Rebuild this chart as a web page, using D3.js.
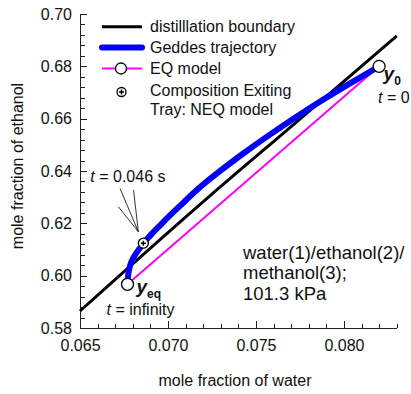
<!DOCTYPE html>
<html lang="en">
	<head>
		<meta charset="utf-8">
		<title>Geddes trajectory</title>
		<style type="text/css">
			body {
				margin: 0;
				background-color: white;
			}
			svg {
				font-family: "Liberation Sans", Arial, Helvetica, sans-serif;
			}
			.axis path,
			.axis line {
				fill: none;
				stroke: #222;
				stroke-width: 1;
				shape-rendering: crispEdges;
			}
			.axis text {
				font-size: 16px;
				fill: #111;
			}
			.title {
				font-size: 16px;
				fill: #111;
			}
			.legend text {
				font-size: 16px;
				fill: #111;
			}
			.note {
				font-size: 16px;
				fill: #111;
			}
		</style>
	</head>
	<body>
	<script type="text/javascript" src="https://cdnjs.cloudflare.com/ajax/libs/d3/7.8.5/d3.min.js"></script>
	<script type="text/javascript">

		// tick values
		var waterTicks = [0.065, 0.070, 0.075, 0.080];
		var ethanolTicks = [0.58, 0.60, 0.62, 0.64, 0.66, 0.68, 0.70];

		// distillation boundary
		var boundaryWater = [0.065, 0.0724, 0.0773, 0.0830];
		var boundaryEthanol = [0.5865, 0.6306, 0.6587, 0.6916];

		// Geddes trajectory, from y0 (t = 0) to yeq (t = infinity)
		var geddesWater = [0.0820, 0.0803, 0.0786, 0.0772, 0.0758, 0.0741, 0.0730, 0.0718, 0.0708,
			0.0701, 0.06955, 0.0690, 0.0686, 0.06827, 0.06798, 0.06781, 0.06773, 0.0677];
		var geddesEthanol = [0.6800, 0.6733, 0.6664, 0.6603, 0.6540, 0.6459, 0.6402, 0.6339, 0.6274,
			0.6230, 0.6192, 0.6155, 0.6123, 0.6094, 0.6064, 0.6033, 0.6003, 0.5967];

		// EQ model
		var eqWater = [0.0820, 0.0677];
		var eqEthanol = [0.6800, 0.5967];

		// composition exiting tray, NEQ model (t = 0.046 s)
		var neqWater = [0.0686];
		var neqEthanol = [0.6124];

		var fullwidth = 411;
		var fullheight = 394;

		var svg = d3.select("body")
			.append("svg")
			.attr("width", fullwidth)
			.attr("height", fullheight);

		var xScale = d3.scaleLinear()
			.domain([0.065, 0.083])
			.range([80, 396.7]);

		var yScale = d3.scaleLinear()
			.domain([0.58, 0.70])
			.range([328, 14]);

		var bottom = yScale.range()[0];
		var left = xScale.range()[0];

		// minor ticks first
		svg.append("g")
			.attr("class", "x axis minor")
			.attr("transform", "translate(0," + bottom + ")")
			.call(d3.axisBottom(xScale)
				.tickValues(d3.range(65, 84).map(function(d) { return d / 1000; }))
				.tickSizeInner(-4)
				.tickSizeOuter(0)
				.tickFormat(""));

		svg.append("g")
			.attr("class", "x axis")
			.attr("transform", "translate(0," + bottom + ")")
			.call(d3.axisBottom(xScale)
				.tickValues(waterTicks)
				.tickSizeInner(-7)
				.tickSizeOuter(0)
				.tickPadding(12)
				.tickFormat(d3.format(".3f")));

		svg.append("g")
			.attr("class", "y axis minor")
			.attr("transform", "translate(" + left + ",0)")
			.call(d3.axisLeft(yScale)
				.tickValues(d3.range(0, 31).map(function(d) { return 0.58 + d * 0.004; }))
				.tickSizeInner(-5)
				.tickSizeOuter(0)
				.tickFormat(""));

		svg.append("g")
			.attr("class", "y axis")
			.attr("transform", "translate(" + left + ",0)")
			.call(d3.axisLeft(yScale)
				.tickValues(ethanolTicks)
				.tickSizeInner(-7)
				.tickSizeOuter(0)
				.tickPadding(8)
				.tickFormat(d3.format(".2f")));

		svg.append("text")
			.attr("class", "title")
			.attr("x", 235)
			.attr("y", 385.5)
			.style("text-anchor", "middle")
			.text("mole fraction of water");

		svg.append("text")
			.attr("class", "title")
			.attr("transform", "translate(23,166) rotate(-90)")
			.style("text-anchor", "middle")
			.text("mole fraction of ethanol");

		var line = d3.line()
			.x(function(d) { return xScale(d[0]); })
			.y(function(d) { return yScale(d[1]); });

		svg.append("path")
			.datum(d3.zip(boundaryWater, boundaryEthanol))
			.attr("d", line.curve(d3.curveMonotoneX))
			.attr("fill", "none")
			.attr("stroke", "black")
			.attr("stroke-width", 3);

		svg.append("path")
			.datum(d3.zip(eqWater, eqEthanol))
			.attr("d", line.curve(d3.curveLinear))
			.attr("fill", "none")
			.attr("stroke", "#ff00ff")
			.attr("stroke-width", 2);

		// basis curve to smooth out reading noise
		svg.append("path")
			.datum(d3.zip(geddesWater, geddesEthanol))
			.attr("d", line.curve(d3.curveBasis))
			.attr("fill", "none")
			.attr("stroke", "#0000ff")
			.attr("stroke-width", 6)
			.attr("stroke-linecap", "round");

		// open circles at both ends of the EQ model
		svg.selectAll("circle.eq")
			.data(d3.zip(eqWater, eqEthanol))
			.enter()
			.append("circle")
			.attr("class", "eq")
			.attr("cx", function(d) { return xScale(d[0]); })
			.attr("cy", function(d) { return yScale(d[1]); })
			.attr("r", 6)
			.attr("fill", "white")
			.attr("stroke", "black")
			.attr("stroke-width", 1.3);

		function neqMarker(g, r) {
			g.append("circle")
				.attr("r", r)
				.attr("fill", "white")
				.attr("stroke", "black")
				.attr("stroke-width", 1.3);
			g.append("path")
				.attr("d", "M-2.5,0H2.5M0,-2.5V2.5")
				.attr("stroke", "black")
				.attr("stroke-width", 1.5);
		}

		var neq = svg.selectAll("g.neq")
			.data(d3.zip(neqWater, neqEthanol))
			.enter()
			.append("g")
			.attr("class", "neq")
			.attr("transform", function(d) {
				return "translate(" + xScale(d[0]) + "," + yScale(d[1]) + ")";
			});

		// pointer lines from the t = 0.046 s label
		var pointers = [[-23.3, -54.7], [-9.8, -53.2], [-25, -36.5]];
		neq.selectAll("line")
			.data(pointers)
			.enter()
			.append("line")
			.attr("x1", function(d) { return d[0]; })
			.attr("y1", function(d) { return d[1]; })
			.attr("x2", -5)
			.attr("y2", -11.5)
			.attr("stroke", "black")
			.attr("stroke-width", 0.8);

		neqMarker(neq, 5);

		// annotations
		var p0 = [xScale(eqWater[0]), yScale(eqEthanol[0])];
		var peq = [xScale(eqWater[1]), yScale(eqEthanol[1])];
		var pn = [xScale(neqWater[0]), yScale(neqEthanol[0])];

		function yLabel(x, y, sub) {
			var t = svg.append("text")
				.attr("x", x)
				.attr("y", y)
				.style("font-weight", "bold")
				.style("fill", "#111");
			t.append("tspan")
				.style("font-style", "italic")
				.style("font-size", "19px")
				.text("y");
			t.append("tspan")
				.attr("dy", 5)
				.style("font-size", "12px")
				.text(sub);
		}

		yLabel(p0[0] + 4.5, p0[1] + 13.5, "0");
		yLabel(peq[0] + 9, peq[1] + 9, "eq");

		function tLabel(x, y, rest) {
			var t = svg.append("text")
				.attr("class", "note")
				.attr("x", x)
				.attr("y", y);
			t.append("tspan").style("font-style", "italic").text("t");
			t.append("tspan").text(" = " + rest);
		}

		tLabel(p0[0] - 1, p0[1] + 36.5, "0");
		tLabel(peq[0] - 21, peq[1] + 31, "infinity");
		tLabel(pn[0] - 53, pn[1] - 61, "0.046 s");

		var sys = svg.append("text")
			.attr("x", 243)
			.attr("y", 258.5)
			.style("font-size", "18.5px")
			.style("fill", "#111");
		["water(1)/ethanol(2)/", "methanol(3);", "101.3 kPa"].forEach(function(s, i) {
			sys.append("tspan")
				.attr("x", 243)
				.attr("dy", i === 0 ? 0 : 20.7)
				.text(s);
		});

		// legend
		var legend = svg.append("g").attr("class", "legend");

		legend.append("line")
			.attr("x1", 102).attr("x2", 142)
			.attr("y1", 26.7).attr("y2", 26.7)
			.attr("stroke", "black").attr("stroke-width", 3);

		legend.append("line")
			.attr("x1", 102).attr("x2", 142)
			.attr("y1", 47.5).attr("y2", 47.5)
			.attr("stroke", "#0000ff").attr("stroke-width", 6)
			.attr("stroke-linecap", "round");

		legend.append("line")
			.attr("x1", 102).attr("x2", 142)
			.attr("y1", 68.5).attr("y2", 68.5)
			.attr("stroke", "#ff00ff").attr("stroke-width", 2);

		legend.append("circle")
			.attr("cx", 121).attr("cy", 68.5).attr("r", 5.5)
			.attr("fill", "white").attr("stroke", "black").attr("stroke-width", 1.3);

		neqMarker(legend.append("g").attr("transform", "translate(121.5,92)"), 4.5);

		var legendText = ["distilllation boundary", "Geddes trajectory", "EQ model", "Composition Exiting", "Tray: NEQ model"];
		var legendY = [32.3, 53.3, 74.3, 96, 115.3];
		legend.selectAll("text")
			.data(legendText)
			.enter()
			.append("text")
			.attr("x", 150)
			.attr("y", function(d, i) { return legendY[i]; })
			.text(function(d) { return d; });

	</script>
	</body>
</html>
